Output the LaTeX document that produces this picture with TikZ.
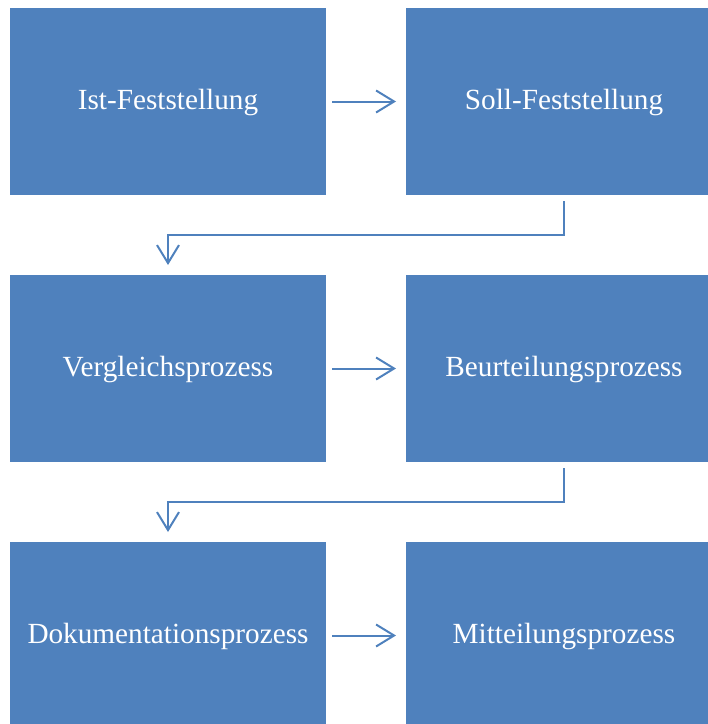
\documentclass[tikz,border=0pt]{standalone}
\usepackage{fontspec}
\setmainfont{Liberation Serif}
\usepackage{xcolor}
\definecolor{procblue}{HTML}{4F81BD}
\usetikzlibrary{arrows.meta,positioning}

\begin{document}
\begin{tikzpicture}[-{Straight Barb[length=0.45cm,width=0.55cm]},line width=0.05cm,procblue,
                      shorten <=0.15cm,shorten >=0.25cm,node distance=2cm,
                      proc node/.style={rectangle,fill=procblue,text=white,outer sep=0pt,inner sep=0pt,
                        minimum width=7.9cm,minimum height=4.675cm,text height=0.52cm,text depth=0.1cm,
                        font=\fontsize{20.8}{25}\selectfont}]

    \clip (0,0) rectangle (17.7,-18.1);

    \node[proc node] (0) at (4.2,-2.5375) {Ist-Feststellung};
    \node[proc node] (1) [right=of 0] {Soll-Feststellung};
    \node[proc node] (2) [below=of 0] {Vergleichsprozess};
    \node[proc node] (3) [right=of 2] {Beurteilungsprozess};
    \node[proc node] (4) [below=of 2] {Dokumentationsprozess};
    \node[proc node] (5) [right=of 4] {Mitteilungsprozess};

    \path
      (0) edge (1)
      (2) edge (3)
      (4) edge (5)
    ;

    %\draw (1) |- (2);
    \draw (1.south) -- ++(0,-1) -| (2.north);
    \draw (3.south) -- ++(0,-1) -| (4.north);

  \end{tikzpicture}
\end{document}
